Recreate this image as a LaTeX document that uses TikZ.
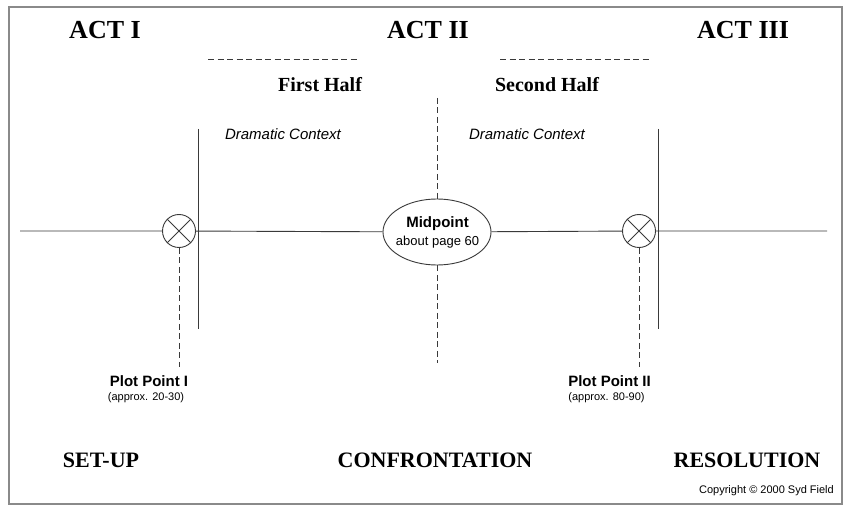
\documentclass[tikz,border=0pt]{standalone}
\usepackage{fontspec}
\setmainfont{Liberation Serif}
\setsansfont{Liberation Sans}
\usetikzlibrary{shapes.geometric}
\definecolor{linegray}{HTML}{3A3A3A}
\definecolor{framegray}{HTML}{8A8A8A}
\tikzset{
  act/.style={inner sep=0pt, font=\rmfamily\bfseries\fontsize{26}{30}\selectfont},
  half/.style={inner sep=0pt, font=\rmfamily\bfseries\fontsize{20}{24}\selectfont},
  phase/.style={inner sep=0pt, font=\rmfamily\bfseries\fontsize{22}{26}\selectfont},
  context/.style={inner sep=0pt, font=\sffamily\itshape\fontsize{15}{18}\selectfont},
  pptitle/.style={inner sep=0pt, font=\sffamily\bfseries\fontsize{15}{18}\selectfont},
  ppnote/.style={inner sep=0pt, font=\sffamily\fontsize{11}{13}\selectfont},
  ppcircle/.style={circle, draw=linegray, line width=0.9pt, minimum size=33pt, inner sep=0pt, fill=white},
  midshape/.style={ellipse, draw=linegray, line width=0.9pt, minimum width=108pt, minimum height=66pt, inner sep=0pt, fill=white},
  solidline/.style={draw=linegray, line width=0.9pt},
  dashline/.style={draw=linegray, line width=0.9pt, dash pattern=on 6pt off 3.5pt},
}
\begin{document}
\begin{tikzpicture}[x=1pt,y=-1pt]
\useasboundingbox (0,0) rectangle (850,510);
\fill[white] (0,0) rectangle (850,510);
\draw[framegray, line width=1.6pt] (9,7) rectangle (842,504);

% acts
\node[act] (act1) at (105,30) {ACT I};
\node[act] (act2) at (428,30) {ACT II};
\node[act] (act3) at (743,30) {ACT III};

% halves
\coordinate (h1a) at (208,59);
\coordinate (h1b) at (358,59);
\coordinate (h2a) at (500,59);
\coordinate (h2b) at (649,59);
\draw[dashline] (h1a) -- (h1b);
\draw[dashline] (h2a) -- (h2b);
\node[half] (first) at (320,85) {First Half};
\node[half] (second) at (547,85) {Second Half};

\node[context] (dc1) at (283,134) {Dramatic Context};
\node[context] (dc2) at (527,134) {Dramatic Context};

% main line
\coordinate (lstart) at (20,231);
\coordinate (lend) at (827,231);
\node[ppcircle] (pp1) at (179,231) {};
\node[midshape] (mid) at (437,232) {};
\node[ppcircle] (pp2) at (639,231) {};
\draw[solidline] (lstart) -- (pp1) -- (mid) -- (pp2) -- (lend);
\draw[solidline] (pp1.45) -- (pp1.225) (pp1.135) -- (pp1.315);
\draw[solidline] (pp2.45) -- (pp2.225) (pp2.135) -- (pp2.315);

\node[inner sep=0pt, font=\sffamily\bfseries\fontsize{15}{18}\selectfont] (midtitle) at (437.5,224) {Midpoint};
\node[inner sep=0pt, font=\sffamily\fontsize{13}{16}\selectfont] (midnote) at (437.5,242) {about page 60};

% act boundaries
\coordinate (b1top) at (198,129);
\coordinate (b1bot) at (198,329);
\coordinate (b2top) at (658,129);
\coordinate (b2bot) at (658,329);
\draw[solidline] (b1top) -- (b1bot);
\draw[solidline] (b2top) -- (b2bot);

% midpoint dashed
\coordinate (mtop) at (437,98);
\coordinate (mbot) at (437,363);
\draw[dashline] (mtop) -- (mid.north);
\draw[dashline] (mid.south) -- (mbot);

% plot point dashed
\coordinate (pp1end) at (179,367);
\coordinate (pp2end) at (639,367);
\draw[dashline] (pp1.south) -- (pp1end);
\draw[dashline] (pp2.south) -- (pp2end);

\node[pptitle] (ppt1) at (149,381) {Plot Point I};
\node[ppnote] (ppn1) at (146,398) {(approx. 20-30)};
\node[pptitle] (ppt2) at (609.5,381) {Plot Point II};
\node[ppnote] (ppn2) at (606.5,398) {(approx. 80-90)};

% phases
\node[phase] (setup) at (101,460) {SET-UP};
\node[phase] (confront) at (435,460) {CONFRONTATION};
\node[phase] (resol) at (747,460) {RESOLUTION};

\node[inner sep=0pt, anchor=east, font=\sffamily\fontsize{11}{13}\selectfont] (copy) at (834,491) {Copyright © 2000 Syd Field};
\end{tikzpicture}
\end{document}
